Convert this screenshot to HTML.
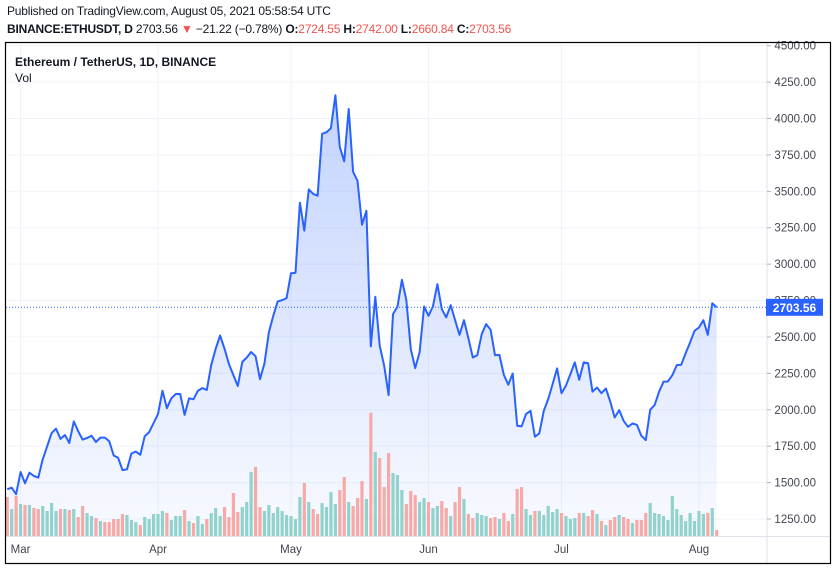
<!DOCTYPE html>
<html><head><meta charset="utf-8">
<style>
body{margin:0;background:#fff;width:835px;height:570px;overflow:hidden;font-family:"Liberation Sans",sans-serif;}
#hdr1{position:absolute;left:7px;top:4px;font-size:12px;color:#131722;letter-spacing:-0.2px}
#hdr2{position:absolute;left:7px;top:22px;font-size:12px;color:#131722;letter-spacing:-0.2px}
#hdr2 b{font-weight:bold}
.r{color:#ef5350}
svg{position:absolute;left:0;top:0}
</style></head>
<body>
<div id="hdr1">Published on TradingView.com, August 05, 2021 05:58:54 UTC</div>
<div id="hdr2"><b>BINANCE:ETHUSDT, D</b> 2703.56 <span class="r">▼</span> −21.22 (−0.78%) <b>O:</b><span class="r">2724.55</span> <b>H:</b><span class="r">2742.00</span> <b>L:</b><span class="r">2660.84</span> <b>C:</b><span class="r">2703.56</span></div>
<svg id="chart" width="835" height="570"></svg>
<script>
const prices=[1455,1465,1420,1573,1495,1568,1545,1534,1659,1750,1840,1870,1800,1827,1772,1920,1852,1795,1806,1822,1779,1809,1809,1784,1686,1670,1586,1591,1700,1713,1691,1818,1845,1909,1970,2131,2011,2079,2108,2108,1965,2079,2072,2131,2149,2136,2306,2419,2510,2419,2313,2238,2163,2329,2358,2397,2367,2210,2317,2533,2646,2744,2753,2767,2937,2941,3422,3230,3513,3482,3470,3895,3906,3933,4160,3804,3706,4065,3634,3572,3271,3366,2435,
2776,2440,2302,2101,2657,2709,2892,2755,2416,2286,2394,2709,2645,2709,2862,2691,2634,2718,2615,2515,2615,2490,2359,2375,2519,2588,2549,2375,2377,2238,2172,2249,1890,1886,1970,1993,1815,1838,1993,2073,2176,2284,2114,2165,2245,2325,2206,2325,2320,2124,2153,2114,2146,2055,1947,1998,1924,1883,1906,1897,1822,1792,2000,2032,2124,2192,2194,2238,2307,2309,2389,2462,2542,2565,2615,2515,2732,2703.56];
const volumes=[117,81,120,96,93,93,84,81,90,75,99,75,81,81,78,81,57,90,69,60,54,45,42,42,51,51,66,63,48,42,33,57,51,66,66,75,69,48,60,60,78,45,39,60,36,51,69,84,60,87,57,129,72,87,102,192,207,87,75,93,69,87,75,63,60,51,117,159,102,81,66,99,87,132,96,138,177,102,90,114,165,111,
370,252,234,147,249,189,183,138,96,135,123,102,114,102,84,90,105,84,60,102,147,111,66,54,69,63,60,54,57,51,69,45,66,141,147,81,63,75,75,63,90,72,81,69,60,51,54,69,69,60,78,66,45,33,48,57,63,57,51,39,48,48,69,99,69,66,60,48,120,81,63,45,69,45,75,66,69,84,18];
const volDir="dgdgdgddgg"+"ggdgdgddgg"+"dgdddddggg"+"dgggggdggg"+"dgdggdgggd"+"dddgggddgg"+"gggggggdgd"+"dggggddgdd"+"dg"+
"dgdddgggdd"+"dggdggddgd"+"dgddgggddg"+"ddgddggdgg"+"gggdgggdgd"+"dgdgddgddg"+"dddggggggg"+"ggggggdgd";
const priceTicks=[1250,1500,1750,2000,2250,2500,2750,3000,3250,3500,3750,4000,4250,4500];
const monthLabels=["Mar","Apr","May","Jun","Jul","Aug"];
const monthIdx=[3,34,64,95,125,156];
const lastPrice=2703.56;

const NS="http://www.w3.org/2000/svg";
const svg=document.getElementById('chart');
const step=4.434, xEnd=716.7;
const X=i=>xEnd-(prices.length-1-i)*step;
const XV=i=>xEnd-(volumes.length-1-i)*step;
const Y=p=>519-(p-1250)*0.14564;
const volBase=536, volScale=123.3/370;
function mk(t,a,p){const e=document.createElementNS(NS,t);for(const k in a)e.setAttribute(k,a[k]);(p||svg).appendChild(e);return e;}

const defs=mk('defs',{});
const g=mk('linearGradient',{id:'ag',x1:0,y1:0,x2:0,y2:1},defs);
mk('stop',{offset:'0','stop-color':'#2962ff','stop-opacity':'0.28'},g);
mk('stop',{offset:'1','stop-color':'#2962ff','stop-opacity':'0.03'},g);

priceTicks.forEach(p=>{const l=mk('line',{x1:6,x2:767,y1:Y(p),y2:Y(p),stroke:'#f0f3fa','stroke-width':1});

});
monthIdx.forEach(i=>{const l=mk('line',{x1:X(i),x2:X(i),y1:43,y2:536,stroke:'#f0f3fa','stroke-width':1});

});

let d='M'+X(0)+','+Y(prices[0]);
for(let i=1;i<prices.length;i++)d+='L'+X(i).toFixed(1)+','+Y(prices[i]).toFixed(1);
const area=mk('path',{d:d+'L'+X(prices.length-1)+',536L'+X(0)+',536Z',fill:'url(#ag)'});



volumes.forEach((v,i)=>{const h=v*volScale;const r=mk('rect',{x:XV(i)-1.6,y:volBase-h,width:3.2,height:h,fill:volDir[i]==='g'?'#92d2cc':'#f7a9a7'});

});

const ln=mk('path',{d:d,fill:'none',stroke:'#2962ff','stroke-width':2,'stroke-linejoin':'round'});



const dl=mk('line',{x1:6,x2:767,y1:Y(lastPrice),y2:Y(lastPrice),stroke:'#2962ff','stroke-width':1,'stroke-dasharray':'1 2'});



const sep=mk('line',{x1:767,x2:767,y1:43,y2:564,stroke:'#e0e3eb'});


const tsep=mk('line',{x1:6,x2:831,y1:536.5,y2:536.5,stroke:'#e0e3eb'});


priceTicks.forEach(p=>{const t=mk('text',{x:816,y:Y(p)+4,'text-anchor':'end','font-size':'11.5',fill:'#434651','font-family':'Liberation Sans, sans-serif'});t.textContent=p.toFixed(2);


const tk=mk('line',{x1:767,x2:771,y1:Y(p),y2:Y(p),stroke:'#b2b5be'});

});
monthLabels.forEach((m,k)=>{const t=mk('text',{x:X(monthIdx[k]),y:553,'text-anchor':'middle','font-size':'11.5',fill:'#434651','font-family':'Liberation Sans, sans-serif'});t.textContent=m;

});

const tg=mk('rect',{x:766,y:Y(lastPrice)-8.5,width:57,height:17,fill:'#2962ff'});


const tt=mk('text',{x:794.5,y:Y(lastPrice)+4.5,'text-anchor':'middle','font-size':'12','font-weight':'bold',fill:'#fff','font-family':'Liberation Sans, sans-serif'});tt.textContent=lastPrice.toFixed(2);



const l1=mk('text',{x:15,y:66,'font-size':'12','font-weight':'bold',fill:'#131722','font-family':'Liberation Sans, sans-serif'});l1.textContent='Ethereum / TetherUS, 1D, BINANCE';


const l2=mk('text',{x:15,y:82,'font-size':'12',fill:'#131722','font-family':'Liberation Sans, sans-serif'});l2.textContent='Vol';



const fr=mk('rect',{x:5.5,y:42.5,width:825,height:521,fill:'none',stroke:'#000','stroke-width':1.2});


</script>
</body></html>
